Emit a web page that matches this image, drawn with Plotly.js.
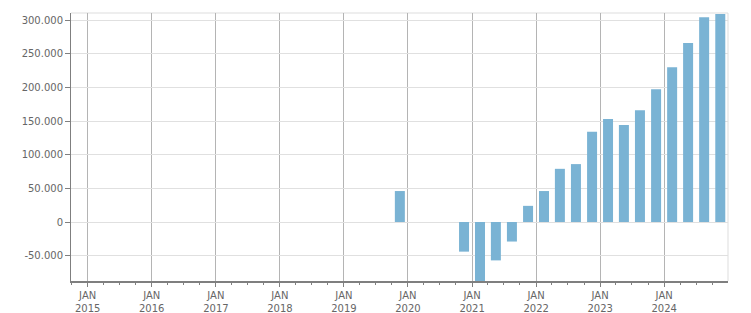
<!DOCTYPE html>
<html>
<head>
<meta charset="utf-8">
<script src="https://cdn.plot.ly/plotly-3.0.1.min.js"></script>
<style>html,body{margin:0;padding:0;background:#fff;}#chart{width:751px;height:313px;}</style>
</head>
<body>
<div id="chart"></div>
<script>
// Quarter start dates (bars are centred in their quarter)
var quarters = [
  '2019-10-01','2020-01-01','2020-04-01','2020-07-01','2020-10-01',
  '2021-01-01','2021-04-01','2021-07-01','2021-10-01',
  '2022-01-01','2022-04-01','2022-07-01','2022-10-01',
  '2023-01-01','2023-04-01','2023-07-01','2023-10-01',
  '2024-01-01','2024-04-01','2024-07-01','2024-10-01'
];
var values = [
  46000, 0, 0, 0, -44000,
  -100000, -57000, -29000, 24000,
  46000, 79000, 86000, 134000,
  153000, 144000, 166000, 197000,
  230000, 266000, 304000, 309000
];
var xTickVals = ['2015-01-01','2016-01-01','2017-01-01','2018-01-01','2019-01-01','2020-01-01','2021-01-01','2022-01-01','2023-01-01','2024-01-01'];
var xTickText = ['JAN<br>2015','JAN<br>2016','JAN<br>2017','JAN<br>2018','JAN<br>2019','JAN<br>2020','JAN<br>2021','JAN<br>2022','JAN<br>2023','JAN<br>2024'];
var yTickVals = [-50000, 0, 50000, 100000, 150000, 200000, 250000, 300000];
var yTickText = ['-50.000','0','50.000','100.000','150.000','200.000','250.000','300.000'];

var DAY = 86400000;
var trace = {
  type: 'bar',
  x: quarters,
  y: values,
  xperiod: 'M3',
  xperiodalignment: 'middle',
  width: quarters.map(function(){ return 57 * DAY; }),
  marker: {color: '#7ab3d4', line: {width: 0}},
  hoverinfo: 'x+y'
};

var font = {family: '"DejaVu Sans", Verdana, sans-serif', size: 10, color: '#666666'};

var layout = {
  width: 751, height: 313,
  margin: {l: 71, r: 23, t: 13, b: 32, pad: 0},
  paper_bgcolor: '#ffffff', plot_bgcolor: '#ffffff',
  showlegend: false,
  font: font,
  xaxis: {
    type: 'date',
    range: ['2014-09-28', '2024-12-30'],
    tickmode: 'array', tickvals: xTickVals, ticktext: xTickText,
    ticks: 'outside', ticklen: 4, tickcolor: '#808080', tickwidth: 1,
    showgrid: true, gridcolor: '#b4b4b4', gridwidth: 1,
    showline: true, linecolor: '#7f7f7f', linewidth: 2,
    zeroline: false,
    tickfont: font,
    minor: {tickmode: 'linear', tick0: '2015-01-01', dtick: 'M3', ticks: 'outside', ticklen: 2, tickcolor: '#808080', showgrid: false}
  },
  yaxis: {
    range: [-87600, 310400],
    tickmode: 'array', tickvals: yTickVals, ticktext: yTickText,
    ticks: 'outside', ticklen: 5, tickcolor: '#808080', tickwidth: 1,
    showgrid: true, gridcolor: '#e0e0e0', gridwidth: 1,
    showline: true, linecolor: '#7f7f7f', linewidth: 1,
    zeroline: false,
    tickfont: font
  },
  shapes: [
    {type: 'line', xref: 'paper', yref: 'paper', x0: 0, x1: 1, y0: 1, y1: 1, line: {color: '#dddddd', width: 1}, layer: 'below'},
    {type: 'line', xref: 'paper', yref: 'paper', x0: 1, x1: 1, y0: 0, y1: 1, line: {color: '#dddddd', width: 1}, layer: 'below'}
  ]
};

Plotly.newPlot('chart', [trace], layout, {displayModeBar: false, staticPlot: true});
</script>
</body>
</html>
